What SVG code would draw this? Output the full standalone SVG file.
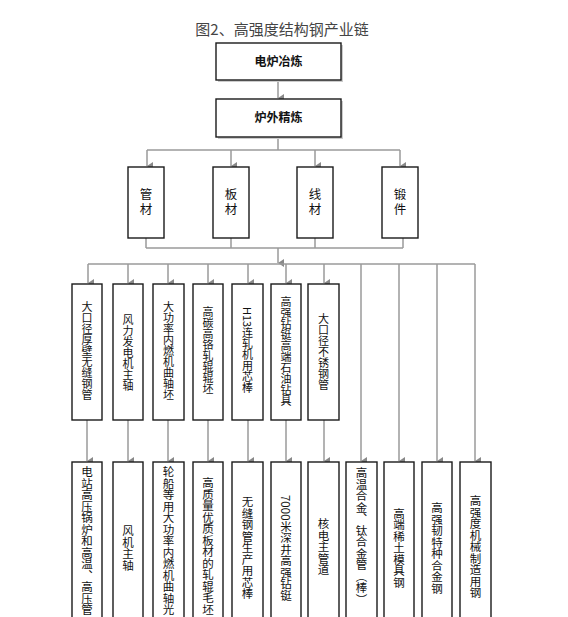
<svg xmlns="http://www.w3.org/2000/svg" width="568" height="617" viewBox="0 0 568 617">
<defs>
<marker id="ah" markerUnits="userSpaceOnUse" markerWidth="8" markerHeight="8" refX="4" refY="7" orient="auto-start-reverse" viewBox="0 0 8 8">
<path d="M0,1 L8,1 L4,7 Z" fill="#888"/>
</marker>
</defs>
<style>
text{font-family:"Noto Sans CJK SC","Noto Sans",sans-serif;fill:#111}
.box{fill:#fff;stroke:#1a1a1a;stroke-width:1.4}
.sh{fill:#ccc}
.ln{stroke:#9a9a9a;stroke-width:1.5;fill:none}
.ar{stroke:#9a9a9a;stroke-width:1.5;fill:none}
.v{writing-mode:vertical-rl;text-anchor:middle}
.vs{writing-mode:vertical-rl;text-anchor:start}
.top{font-size:12px;font-weight:bold;text-anchor:middle}
.mat{font-size:12.5px;letter-spacing:2.5px}
.mid{font-size:11px}
.bot{font-size:11.5px}
</style>
<rect width="568" height="617" fill="#fff"/>
<text x="282" y="35" font-size="15" text-anchor="middle" style="fill:#444">图2、高强度结构钢产业链</text>

<g id="connectors">
<line class="ar" x1="278" y1="80" x2="278" y2="98" marker-end="url(#ah)"/>
<polyline class="ln" points="278,137 278,150"/>
<line class="ln" x1="147" y1="150" x2="400" y2="150"/>
<line class="ar" x1="147" y1="150" x2="147" y2="166" marker-end="url(#ah)"/>
<line class="ar" x1="231" y1="150" x2="231" y2="166" marker-end="url(#ah)"/>
<line class="ar" x1="315" y1="150" x2="315" y2="166" marker-end="url(#ah)"/>
<line class="ar" x1="400" y1="150" x2="400" y2="166" marker-end="url(#ah)"/>
<line class="ln" x1="146" y1="238" x2="146" y2="248"/>
<line class="ln" x1="231" y1="238" x2="231" y2="248"/>
<line class="ln" x1="315" y1="238" x2="315" y2="248"/>
<line class="ln" x1="403" y1="238" x2="403" y2="248"/>
<line class="ln" x1="146" y1="248" x2="403" y2="248"/>
<line class="ar" x1="278" y1="248" x2="278" y2="263" marker-end="url(#ah)"/>
<line class="ln" x1="88" y1="264" x2="475" y2="264"/>
<line class="ar" x1="88" y1="264" x2="88" y2="283" marker-end="url(#ah)"/>
<line class="ar" x1="128" y1="264" x2="128" y2="283" marker-end="url(#ah)"/>
<line class="ar" x1="168" y1="264" x2="168" y2="283" marker-end="url(#ah)"/>
<line class="ar" x1="208" y1="264" x2="208" y2="283" marker-end="url(#ah)"/>
<line class="ar" x1="248" y1="264" x2="248" y2="283" marker-end="url(#ah)"/>
<line class="ar" x1="286" y1="264" x2="286" y2="283" marker-end="url(#ah)"/>
<line class="ar" x1="324" y1="264" x2="324" y2="283" marker-end="url(#ah)"/>
<line class="ar" x1="361" y1="264" x2="361" y2="461" marker-end="url(#ah)"/>
<line class="ar" x1="399" y1="264" x2="399" y2="461" marker-end="url(#ah)"/>
<line class="ar" x1="437" y1="264" x2="437" y2="461" marker-end="url(#ah)"/>
<line class="ar" x1="475" y1="264" x2="475" y2="461" marker-end="url(#ah)"/>
<line class="ar" x1="87" y1="420" x2="87" y2="461" marker-end="url(#ah)"/>
<line class="ar" x1="128" y1="420" x2="128" y2="461" marker-end="url(#ah)"/>
<line class="ar" x1="168" y1="420" x2="168" y2="461" marker-end="url(#ah)"/>
<line class="ar" x1="208" y1="420" x2="208" y2="461" marker-end="url(#ah)"/>
<line class="ar" x1="248" y1="420" x2="248" y2="461" marker-end="url(#ah)"/>
<line class="ar" x1="286" y1="420" x2="286" y2="461" marker-end="url(#ah)"/>
<line class="ar" x1="324" y1="420" x2="324" y2="461" marker-end="url(#ah)"/>
</g>

<g id="n-dianlu">
<rect class="sh" x="218" y="45" width="125" height="37"/>
<rect class="box" x="216" y="43" width="125" height="37"/>
<text class="top" x="278.5" y="66">电炉冶炼</text>
</g>
<g id="n-luwai">
<rect class="sh" x="218" y="101" width="125" height="38"/>
<rect class="box" x="216" y="99" width="125" height="38"/>
<text class="top" x="278.5" y="122">炉外精炼</text>
</g>

<g id="n-guancai">
<rect class="box" x="128" y="167" width="36" height="71"/>
<text class="v mat" x="146" y="203">管材</text>
</g>
<g id="n-bancai">
<rect class="box" x="213" y="167" width="36" height="71"/>
<text class="v mat" x="231" y="203">板材</text>
</g>
<g id="n-xiancai">
<rect class="box" x="297" y="167" width="36" height="71"/>
<text class="v mat" x="315" y="203">线材</text>
</g>
<g id="n-duanjian">
<rect class="box" x="382" y="167" width="36" height="71"/>
<text class="v mat" x="400" y="203">锻件</text>
</g>

<g id="m1"><rect class="box" x="72" y="284" width="30" height="136"/><text class="v mid" x="87" y="351">大口径厚壁无缝钢管</text></g>
<g id="m2"><rect class="box" x="113" y="284" width="30" height="136"/><text class="v mid" x="128" y="353">风力发电机主轴</text></g>
<g id="m3"><rect class="box" x="153" y="284" width="31" height="136"/><text class="v mid" x="168.5" y="351">大功率内燃机曲轴坯</text></g>
<g id="m4"><rect class="box" x="193" y="284" width="30" height="136"/><text class="v mid" x="208" y="350">高碳高铬轧辊辊坯</text></g>
<g id="m5"><rect class="box" x="232" y="284" width="31" height="136"/><text class="v mid" x="247.5" y="350">H13连轧机用芯棒</text></g>
<g id="m6"><rect class="box" x="271" y="284" width="30" height="136"/><text class="v mid" x="286" y="351">高强钻铤高端石油钻具</text></g>
<g id="m7"><rect class="box" x="308" y="284" width="31" height="136"/><text class="v mid" x="323.5" y="352">大口径不锈钢管</text></g>

<g id="b1"><rect class="box" x="72" y="462" width="30" height="175"/><text class="vs bot" x="87" y="466">电站高压锅炉和高温、高压管</text></g>
<g id="b2"><rect class="box" x="113" y="462" width="30" height="175"/><text class="v bot" x="128" y="548">风机主轴</text></g>
<g id="b3"><rect class="box" x="153" y="462" width="31" height="175"/><text class="vs bot" x="168.5" y="466">轮船等用大功率内燃机曲轴光</text></g>
<g id="b4"><rect class="box" x="193" y="462" width="30" height="175"/><text class="v bot" x="208" y="546">高质量优质板材的轧辊毛坯</text></g>
<g id="b5"><rect class="box" x="232" y="462" width="31" height="175"/><text class="v bot" x="247.5" y="548">无缝钢管生产用芯棒</text></g>
<g id="b6"><rect class="box" x="271" y="462" width="30" height="175"/><text class="v bot" x="286" y="548">7000米深井高强钻铤</text></g>
<g id="b7"><rect class="box" x="308" y="462" width="31" height="175"/><text class="v bot" x="323.5" y="547">核电主管道</text></g>
<g id="b8"><rect class="box" x="346" y="462" width="31" height="175"/><text class="vs bot" x="361.5" y="467">高温合金、钛合金管（棒）</text></g>
<g id="b9"><rect class="box" x="384" y="462" width="30" height="175"/><text class="v bot" x="399" y="548">高端稀土模具钢</text></g>
<g id="b10"><rect class="box" x="422" y="462" width="30" height="175"/><text class="v bot" x="437" y="548">高强韧特种合金钢</text></g>
<g id="b11"><rect class="box" x="460" y="462" width="31" height="175"/><text class="v bot" x="475.5" y="547">高强度机械制造用钢</text></g>
</svg>
